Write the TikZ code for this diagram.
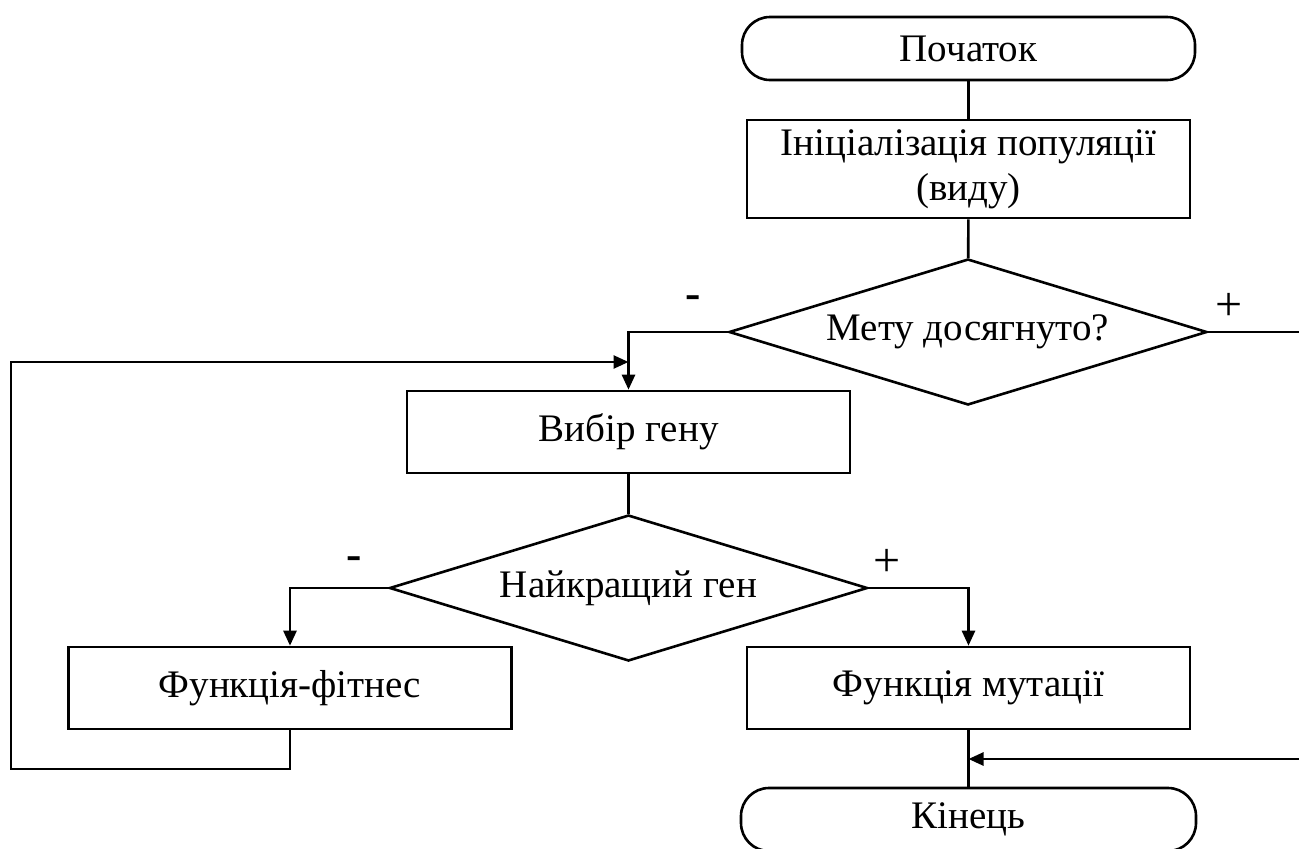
\documentclass[tikz,border=0pt]{standalone}
\usepackage{fontspec}
\setmainfont{Liberation Serif}
\usetikzlibrary{shapes.geometric,arrows.meta}
\begin{document}
\begin{tikzpicture}[x=1pt,y=-1pt,
  line width=2.6pt,
  every node/.style={font=\fontsize{39}{45}\selectfont, inner sep=0pt},
  proc/.style={draw, rectangle, minimum width=443pt, minimum height=82pt, align=center},
  term/.style={draw, rectangle, rounded corners=28pt, minimum width=453pt, minimum height=63pt},
  decision/.style={draw, diamond, minimum width=478pt, minimum height=146pt, shape aspect=3.27},
  flow/.style={-{Triangle[length=15pt,width=13pt]}},
  minus/.style={font=\fontsize{46}{46}\selectfont\bfseries},
  plus/.style={font=\fontsize{48}{48}\selectfont}
]
\fill[white] (0,0) rectangle (1299,849);
\useasboundingbox (0,0) rectangle (1299,849);

% blocks
\node[term] (start) at (968.5,48.5) {Початок};
\node[proc, minimum height=98pt] (init) at (968.5,169) {Ініціалізація популяції\\(виду)};
\node[decision] (goal) at (968,332) {Мету досягнуто?};
\node[proc] (select) at (628.5,432) {Вибір гену};
\node[decision] (best) at (628.5,588) {Найкращий ген};
\node[proc] (fitness) at (290,688) {Функція-фітнес};
\node[proc] (mutation) at (968.5,688) {Функція мутації};
\node[term, minimum width=455pt] (finish) at (968.5,819.5) {Кінець};

% branch labels
\node[minus] (gno) at (693,302) {-};
\node[plus] (gyes) at (1229,307) {+};
\node[minus] (bno) at (354,563) {-};
\node[plus] (byes) at (887,563) {+};

% helper points for the loops
\coordinate (merge) at (628.5,362);
\coordinate (lbot) at (11,769);
\coordinate (ltop) at (11,362);
\coordinate (rtop) at (1306,332);
\coordinate (rbot) at (1306,759);
\coordinate (join) at (968.5,759);

% connectors
\draw (start) -- (init);
\draw (init) -- (goal);
\draw[flow] (goal.west) -| (select.north);
\draw (select) -- (best);
\draw[flow] (best.west) -| (fitness.north);
\draw[flow] (best.east) -| (mutation.north);
\draw (mutation) -- (finish);
\draw[flow] (fitness.south) |- (lbot) -- (ltop) -- (merge);
\draw[flow] (goal.east) -- (rtop) -- (rbot) -- (join);
\end{tikzpicture}
\end{document}
